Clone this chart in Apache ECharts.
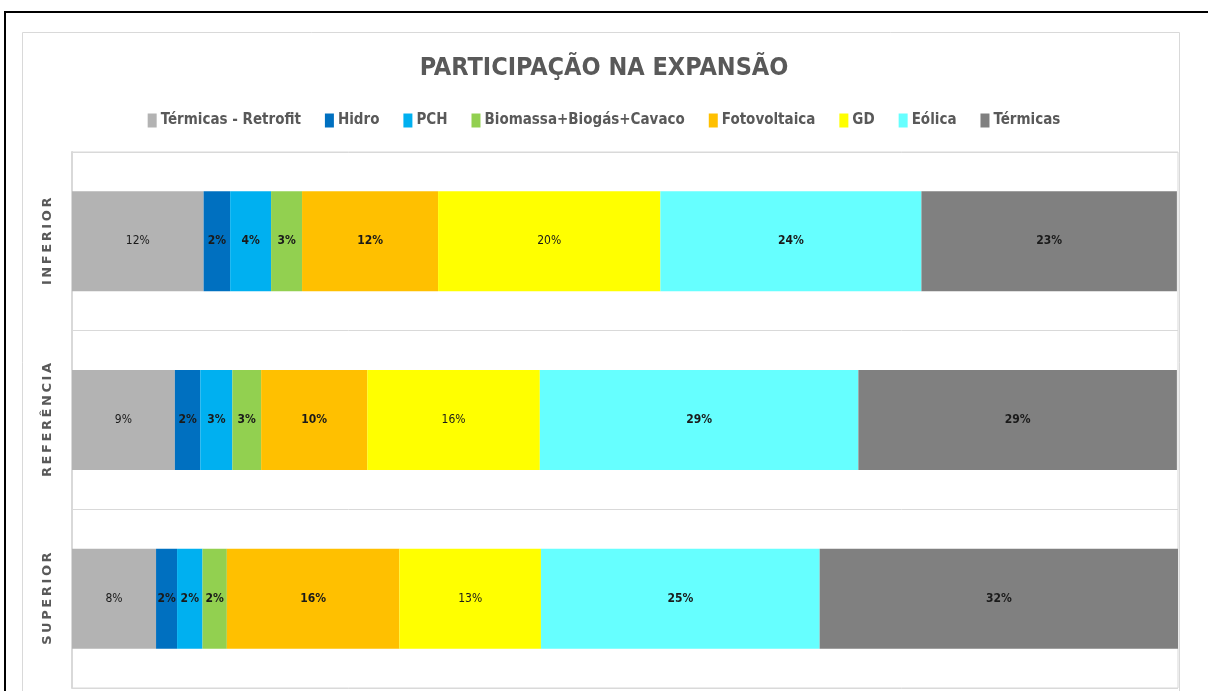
<!DOCTYPE html>
<html>
<head>
<meta charset="utf-8">
<script src="https://cdn.jsdelivr.net/npm/echarts@6/dist/echarts.min.js"></script>
<style>
  html, body { margin: 0; padding: 0; background: #fff; }
  #chart { width: 1208px; height: 691px; }
</style>
</head>
<body>
<div id="chart"></div>
<script>
const cenarios = ['INFERIOR', 'REFERÊNCIA', 'SUPERIOR']
const fontes = ['Térmicas - Retrofit', 'Hidro', 'PCH', 'Biomassa+Biogás+Cavaco', 'Fotovoltaica', 'GD', 'Eólica', 'Térmicas']
const cores = ['#b3b3b3', '#0070c0', '#00b0f0', '#92d050', '#ffc000', '#ffff00', '#66ffff', '#808080']
const negrito = [false, true, true, true, true, false, true, true]

// participação (%) por fonte, na ordem INFERIOR, REFERÊNCIA, SUPERIOR
const retrofit = [11.9, 9.3, 7.6]
const hidro = [2.4, 2.3, 1.9]
const pch = [3.7, 2.9, 2.3]
const biomassa = [2.8, 2.6, 2.2]
const fotovoltaica = [12.3, 9.6, 15.6]
const gd = [20.1, 15.6, 12.8]
const eolica = [23.6, 28.8, 25.2]
const termicas = [23.1, 28.8, 32.4]

const valores = [retrofit, hidro, pch, biomassa, fotovoltaica, gd, eolica, termicas]

const fonte = "'Liberation Sans Narrow', 'DejaVu Sans Condensed', 'Open Sans', sans-serif"
const spaced = s => s.split('').join('\u2009')

const chart = echarts.init(document.getElementById('chart'))

const series = fontes.map((nome, i) => ({
  name: nome,
  type: 'bar',
  stack: 'total',
  barWidth: 100,
  data: valores[i],
  itemStyle: { color: cores[i] },
  label: {
    show: true,
    position: 'inside',
    formatter: p => Math.round(p.value) + '%',
    color: '#1a1a1a',
    fontSize: 12,
    fontFamily: fonte,
    fontWeight: negrito[i] ? 'bold' : 'normal'
  }
}))

chart.setOption({
  animation: false,
  backgroundColor: '#fff',
  graphic: [
    { type: 'line', shape: { x1: 5, y1: 12, x2: 1208, y2: 12 }, style: { stroke: '#000', lineWidth: 2 } },
    { type: 'line', shape: { x1: 5, y1: 11, x2: 5, y2: 691 }, style: { stroke: '#000', lineWidth: 2 } },
    { type: 'rect', shape: { x: 22.5, y: 32.5, width: 1157, height: 670 }, style: { fill: 'none', stroke: '#d9d9d9', lineWidth: 1 }, z: -1 }
  ],
  title: {
    text: 'PARTICIPAÇÃO NA EXPANSÃO',
    left: 'center',
    top: 51,
    textStyle: { color: '#595959', fontSize: 25, fontWeight: 'bold', fontFamily: fonte }
  },
  legend: {
    top: 108,
    left: 'center',
    itemWidth: 9,
    itemHeight: 14,
    itemGap: 24,
    icon: 'rect',
    textStyle: { color: '#595959', fontSize: 15, fontWeight: 'bold', fontFamily: fonte, padding: [0, 0, 0, -1] },
    data: fontes
  },
  grid: {
    left: 72, right: 30, top: 152, bottom: 3,
    show: true, borderColor: '#d9d9d9', borderWidth: 1
  },
  xAxis: {
    type: 'value',
    min: 0,
    max: 100,
    show: false
  },
  yAxis: {
    type: 'category',
    inverse: true,
    data: cenarios,
    axisTick: { show: false },
    axisLine: { show: true, lineStyle: { color: '#d9d9d9', width: 2 } },
    splitLine: { show: true, lineStyle: { color: '#d9d9d9', width: 1 } },
    axisLabel: {
      rotate: 90,
      margin: 18,
      formatter: v => spaced(v),
      color: '#595959',
      fontSize: 13,
      fontWeight: 'bold',
      fontFamily: "'DejaVu Sans', sans-serif"
    }
  },
  series: series
})
</script>
</body>
</html>
